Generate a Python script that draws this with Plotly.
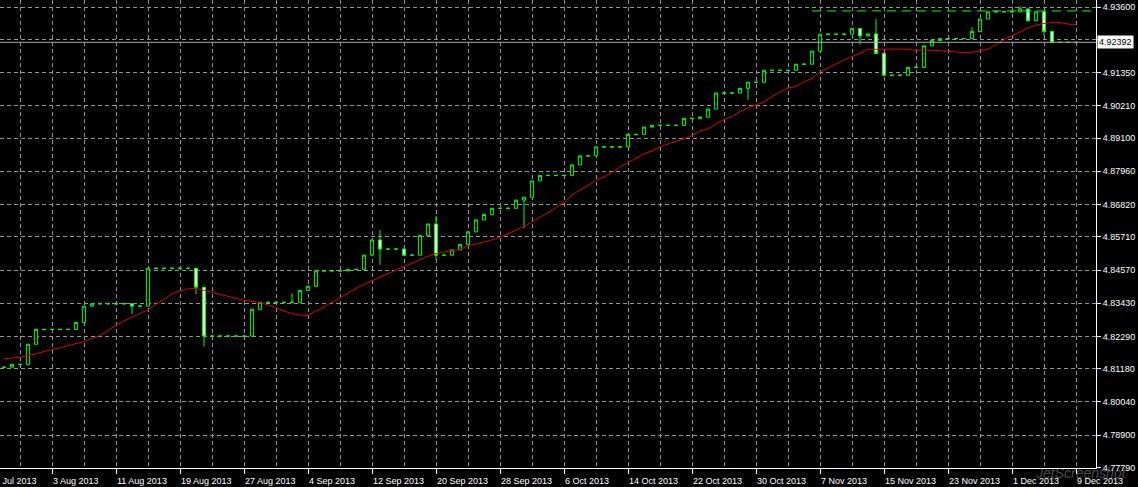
import pandas as pd
import plotly.graph_objects as go

# ---------------- data (daily bars, 28 Jul 2013 .. 9 Dec 2013) ----------------
first_day = "2013-07-28"
n_bars = 135

open_ = [
    4.8123, 4.8123, 4.8133, 4.8133, 4.8202, 4.8253, 4.8253, 4.8253, 4.8253, 4.8253,
    4.8277, 4.8333, 4.8341, 4.8341, 4.8341, 4.8341, 4.8341, 4.8333, 4.8333, 4.8463,
    4.8463, 4.8463, 4.8463, 4.8463, 4.8463, 4.8398, 4.8230, 4.8230, 4.8230, 4.8230,
    4.8230, 4.8230, 4.8322, 4.8346, 4.8346, 4.8346, 4.8346, 4.8346, 4.8387, 4.8401,
    4.8454, 4.8454, 4.8454, 4.8454, 4.8459, 4.8459, 4.8508, 4.8560, 4.8529, 4.8529,
    4.8529, 4.8508, 4.8508, 4.8576, 4.8615, 4.8508, 4.8508, 4.8526, 4.8545, 4.8588,
    4.8629, 4.8648, 4.8669, 4.8669, 4.8669, 4.8697, 4.8707, 4.8763, 4.8782, 4.8782,
    4.8782, 4.8782, 4.8818, 4.8849, 4.8849, 4.8880, 4.8880, 4.8880, 4.8880, 4.8923,
    4.8923, 4.8948, 4.8954, 4.8954, 4.8954, 4.8954, 4.8978, 4.8978, 4.8982, 4.9010,
    4.9065, 4.9065, 4.9065, 4.9081, 4.9102, 4.9102, 4.9143, 4.9143, 4.9143, 4.9143,
    4.9164, 4.9164, 4.9209, 4.9267, 4.9267, 4.9267, 4.9267, 4.9287, 4.9261, 4.9268,
    4.9201, 4.9126, 4.9126, 4.9126, 4.9153, 4.9153, 4.9227, 4.9245, 4.9252, 4.9252,
    4.9252, 4.9252, 4.9276, 4.9319, 4.9344, 4.9344, 4.9344, 4.9344, 4.9354, 4.9313,
    4.9344, 4.9276, 4.92392, 4.92392, 4.92392,
]
high = [
    4.8123, 4.8133, 4.8133, 4.8202, 4.8253, 4.8253, 4.8253, 4.8253, 4.8253, 4.8277,
    4.8333, 4.8341, 4.8341, 4.8341, 4.8341, 4.8341, 4.8341, 4.8333, 4.8463, 4.8463,
    4.8463, 4.8463, 4.8463, 4.8463, 4.8463, 4.8398, 4.8230, 4.8230, 4.8230, 4.8230,
    4.8230, 4.8322, 4.8346, 4.8346, 4.8346, 4.8346, 4.8377, 4.8387, 4.8401, 4.8454,
    4.8454, 4.8454, 4.8454, 4.8459, 4.8459, 4.8508, 4.8560, 4.8594, 4.8529, 4.8529,
    4.8529, 4.8508, 4.8576, 4.8615, 4.8643, 4.8508, 4.8526, 4.8545, 4.8588, 4.8629,
    4.8648, 4.8669, 4.8669, 4.8669, 4.8697, 4.8707, 4.8763, 4.8782, 4.8782, 4.8782,
    4.8782, 4.8818, 4.8849, 4.8849, 4.8880, 4.8880, 4.8880, 4.8880, 4.8923, 4.8923,
    4.8948, 4.8954, 4.8954, 4.8954, 4.8954, 4.8978, 4.8978, 4.8982, 4.9010, 4.9065,
    4.9065, 4.9065, 4.9081, 4.9102, 4.9102, 4.9143, 4.9143, 4.9143, 4.9143, 4.9164,
    4.9164, 4.9209, 4.9267, 4.9267, 4.9267, 4.9267, 4.9287, 4.9287, 4.9268, 4.9319,
    4.9201, 4.9126, 4.9126, 4.9153, 4.9158, 4.9227, 4.9245, 4.9252, 4.9252, 4.9252,
    4.9252, 4.9291, 4.9319, 4.9344, 4.9344, 4.9344, 4.9344, 4.9364, 4.9354, 4.9344,
    4.9344, 4.9276, 4.92392, 4.92392, 4.92392,
]
low = [
    4.8123, 4.8123, 4.8133, 4.8133, 4.8202, 4.8253, 4.8253, 4.8253, 4.8253, 4.8253,
    4.8277, 4.8333, 4.8341, 4.8341, 4.8341, 4.8341, 4.8305, 4.8333, 4.8333, 4.8463,
    4.8463, 4.8463, 4.8463, 4.8463, 4.8374, 4.8194, 4.8230, 4.8230, 4.8230, 4.8230,
    4.8230, 4.8230, 4.8322, 4.8346, 4.8346, 4.8346, 4.8346, 4.8346, 4.8387, 4.8401,
    4.8454, 4.8454, 4.8454, 4.8454, 4.8459, 4.8459, 4.8508, 4.8475, 4.8529, 4.8529,
    4.8508, 4.8508, 4.8508, 4.8576, 4.8491, 4.8508, 4.8508, 4.8526, 4.8545, 4.8588,
    4.8629, 4.8648, 4.8669, 4.8669, 4.8669, 4.8600, 4.8707, 4.8763, 4.8782, 4.8782,
    4.8782, 4.8782, 4.8818, 4.8849, 4.8849, 4.8880, 4.8880, 4.8880, 4.8880, 4.8923,
    4.8923, 4.8948, 4.8954, 4.8954, 4.8954, 4.8954, 4.8978, 4.8978, 4.8982, 4.9010,
    4.9065, 4.9065, 4.9065, 4.9041, 4.9102, 4.9102, 4.9143, 4.9143, 4.9143, 4.9143,
    4.9164, 4.9164, 4.9209, 4.9267, 4.9267, 4.9267, 4.9267, 4.9232, 4.9261, 4.9201,
    4.9126, 4.9126, 4.9126, 4.9126, 4.9153, 4.9153, 4.9227, 4.9245, 4.9252, 4.9252,
    4.9252, 4.9252, 4.9276, 4.9319, 4.9344, 4.9344, 4.9344, 4.9344, 4.9313, 4.9313,
    4.9264, 4.92392, 4.92392, 4.92392, 4.92392,
]
close = [
    4.8123, 4.8133, 4.8133, 4.8202, 4.8253, 4.8253, 4.8253, 4.8253, 4.8253, 4.8277,
    4.8333, 4.8341, 4.8341, 4.8341, 4.8341, 4.8341, 4.8333, 4.8333, 4.8463, 4.8463,
    4.8463, 4.8463, 4.8463, 4.8463, 4.8398, 4.8230, 4.8230, 4.8230, 4.8230, 4.8230,
    4.8230, 4.8322, 4.8346, 4.8346, 4.8346, 4.8346, 4.8346, 4.8387, 4.8401, 4.8454,
    4.8454, 4.8454, 4.8454, 4.8459, 4.8459, 4.8508, 4.8560, 4.8529, 4.8529, 4.8529,
    4.8508, 4.8508, 4.8576, 4.8615, 4.8508, 4.8508, 4.8526, 4.8545, 4.8588, 4.8629,
    4.8648, 4.8669, 4.8669, 4.8669, 4.8697, 4.8707, 4.8763, 4.8782, 4.8782, 4.8782,
    4.8782, 4.8818, 4.8849, 4.8849, 4.8880, 4.8880, 4.8880, 4.8880, 4.8923, 4.8923,
    4.8948, 4.8954, 4.8954, 4.8954, 4.8954, 4.8978, 4.8978, 4.8982, 4.9010, 4.9065,
    4.9065, 4.9065, 4.9081, 4.9102, 4.9102, 4.9143, 4.9143, 4.9143, 4.9143, 4.9164,
    4.9164, 4.9209, 4.9267, 4.9267, 4.9267, 4.9267, 4.9287, 4.9261, 4.9268, 4.9201,
    4.9126, 4.9126, 4.9126, 4.9153, 4.9153, 4.9227, 4.9245, 4.9252, 4.9252, 4.9252,
    4.9252, 4.9276, 4.9319, 4.9344, 4.9344, 4.9344, 4.9344, 4.9354, 4.9313, 4.9344,
    4.9276, 4.92392, 4.92392, 4.92392, 4.92392,
]
moving_average = [
    4.8152, 4.8155, 4.8157, 4.8163, 4.8170, 4.8177, 4.8183, 4.8189, 4.8196, 4.8203,
    4.8211, 4.8222, 4.8232, 4.8249, 4.8268, 4.8282, 4.8296, 4.8308, 4.8320, 4.8340,
    4.8356, 4.8375, 4.8385, 4.8392, 4.8394, 4.8387, 4.8380, 4.8373, 4.8366, 4.8359,
    4.8353, 4.8349, 4.8345, 4.8337, 4.8328, 4.8316, 4.8307, 4.8302, 4.8301, 4.8316,
    4.8330, 4.8347, 4.8361, 4.8378, 4.8394, 4.8407, 4.8420, 4.8433, 4.8444, 4.8457,
    4.8469, 4.8481, 4.8491, 4.8504, 4.8514, 4.8519, 4.8523, 4.8528, 4.8540, 4.8546,
    4.8552, 4.8560, 4.8570, 4.8581, 4.8594, 4.8606, 4.8623, 4.8639, 4.8653, 4.8672,
    4.8689, 4.8715, 4.8732, 4.8746, 4.8765, 4.8777, 4.8792, 4.8811, 4.8826, 4.8842,
    4.8856, 4.8866, 4.8880, 4.8890, 4.8898, 4.8907, 4.8919, 4.8935, 4.8942, 4.8959,
    4.8974, 4.8984, 4.9001, 4.9014, 4.9024, 4.9034, 4.9053, 4.9069, 4.9082, 4.9087,
    4.9103, 4.9115, 4.9137, 4.9151, 4.9166, 4.9179, 4.9190, 4.9201, 4.9215, 4.9216,
    4.9216, 4.9216, 4.9216, 4.9215, 4.9211, 4.9213, 4.9212, 4.9210, 4.9209, 4.9208,
    4.9204, 4.9205, 4.9209, 4.9216, 4.9233, 4.9248, 4.9262, 4.9276, 4.9288, 4.9298,
    4.9304, 4.9307, 4.9307, 4.9302, 4.9300,
]

bid_price = 4.92392
level_price = 4.9347
level_start = "2013-11-06"
price_ticks = [4.93600, 4.92480, 4.91350, 4.90210, 4.89100, 4.87960, 4.86820,
               4.85710, 4.84570, 4.83430, 4.82290, 4.81180, 4.80040, 4.78900, 4.77790]
price_tick_text = ["4.93600", "", "4.91350", "4.90210", "4.89100", "4.87960", "4.86820",
                   "4.85710", "4.84570", "4.83430", "4.82290", "4.81180", "4.80040",
                   "4.78900", "4.77790"]
date_tick_start = "2013-07-26"
view_start = "2013-07-27 12:00"
view_end = "2013-12-11 12:00"
y_view = [4.77769, 4.93845]

dates = pd.date_range(first_day, periods=n_bars, freq="D")

# ---------------- styling ----------------
GREEN = "#00ff00"
GRID = "#8f969e"
FG = "#ffffff"
FONT = "Liberation Sans, Arial, sans-serif"
DAY_MS = 86400000

fig = go.Figure()
fig.add_trace(go.Candlestick(
    x=dates, open=open_, high=high, low=low, close=close,
    increasing=dict(line=dict(color=GREEN, width=1), fillcolor="#000000"),
    decreasing=dict(line=dict(color=GREEN, width=1), fillcolor="#ffffff"),
    whiskerwidth=0, showlegend=False, hoverinfo="skip",
))
fig.add_trace(go.Scatter(
    x=dates, y=moving_average, mode="lines",
    line=dict(color="#e00000", width=1), showlegend=False, hoverinfo="skip",
))

# bid line
fig.add_shape(type="line", xref="paper", x0=0, x1=1, yref="y", y0=bid_price, y1=bid_price,
              line=dict(color="#a8a8a8", width=1))
# dashed level line near the highs
fig.add_shape(type="line", xref="x", x0=level_start, x1=view_end, yref="y",
              y0=level_price, y1=level_price,
              line=dict(color=GREEN, width=1, dash="9px,6px"))

fig.add_annotation(xref="paper", x=1, xanchor="left", xshift=1, yref="y", y=bid_price,
                   text="4.92392", showarrow=False, bgcolor="#ffffff",
                   font=dict(color="#000000", size=9, family=FONT), borderpad=1)
# clipped first date label on the left edge
fig.add_annotation(xref="paper", x=-12 / 1096, xanchor="left", yref="paper", y=0,
                   yanchor="top", yshift=-6, text="26 Jul 2013", showarrow=False,
                   font=dict(color=FG, size=9, family=FONT))
# watermark
fig.add_annotation(xref="paper", x=1.03, xanchor="right", yref="paper", y=-0.01,
                   yanchor="middle", text="<i>JetScreenshot</i>", showarrow=False,
                   font=dict(color="rgba(170,170,170,0.45)", size=14, family=FONT))

fig.update_layout(
    width=1138, height=487,
    margin=dict(l=0, r=42, t=0, b=19),
    paper_bgcolor="#000000", plot_bgcolor="#000000",
    boxgap=0.42,
    showlegend=False,
    font=dict(family=FONT, size=9, color=FG),
)
fig.update_xaxes(
    type="date", range=[view_start, view_end],
    rangeslider=dict(visible=False),
    tick0=date_tick_start, dtick=8 * DAY_MS, tickformat="%-d %b %Y",
    ticks="outside", ticklen=5, tickcolor=FG, tickwidth=1,
    ticklabelposition="outside right", ticklabelstandoff=4,
    tickfont=dict(color=FG, size=9, family=FONT),
    showgrid=True, gridcolor=GRID, gridwidth=1, griddash="4px,3px",
    minor=dict(dtick=4 * DAY_MS, tick0=date_tick_start, showgrid=True,
               gridcolor=GRID, gridwidth=1, griddash="4px,3px", ticks=""),
    showline=True, linecolor=FG, linewidth=1, zeroline=False,
)
fig.update_yaxes(
    side="right", range=y_view,
    tickmode="array", tickvals=price_ticks, ticktext=price_tick_text,
    ticks="outside", ticklen=4, tickcolor=FG, tickwidth=1,
    tickfont=dict(color=FG, size=9, family=FONT),
    showgrid=True, gridcolor=GRID, gridwidth=1, griddash="4px,3px",
    showline=True, linecolor=FG, linewidth=1, zeroline=False,
)

fig.write_html(
    "out.html",
    config={"displayModeBar": False, "staticPlot": True},
    post_script="document.body.style.margin='0';document.body.style.background='#000';",
)
